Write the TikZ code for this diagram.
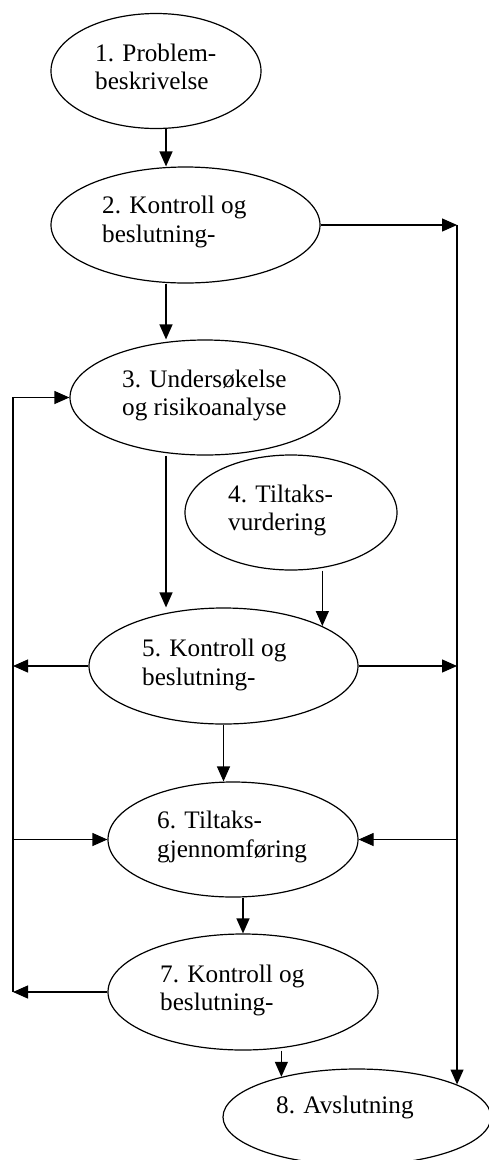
\documentclass[tikz,border=0pt]{standalone}
\usepackage{fontspec}
\setmainfont{Liberation Serif}
\usetikzlibrary{shapes.geometric,arrows.meta}
\begin{document}
\begin{tikzpicture}[x=1pt,y=-1pt,
  proc/.style={draw,ellipse,line width=1.2pt,inner sep=0pt},
  lbl/.style={anchor=base west,inner sep=0pt,font=\fontsize{25.2pt}{29pt}\selectfont},
  arr/.style={line width=1.2pt,-{Triangle[length=15pt,width=13pt]}},
  ln/.style={line width=1.2pt}]
\useasboundingbox (0,0) rectangle (489,1160);
\fill[white] (0,0) rectangle (489,1160);
% ellipses
\node[proc,minimum width=210pt,minimum height=115pt] (e1) at (156,71) {};
\node[proc,minimum width=269pt,minimum height=116pt] (e2) at (185.5,225) {};
\node[proc,minimum width=270pt,minimum height=115pt] (e3) at (205,397.5) {};
\node[proc,minimum width=212pt,minimum height=115pt] (e4) at (291,512.5) {};
\node[proc,minimum width=269pt,minimum height=116pt] (e5) at (223.5,666) {};
\node[proc,minimum width=250pt,minimum height=115pt] (e6) at (233,839.5) {};
\node[proc,minimum width=270pt,minimum height=116pt] (e7) at (243,992) {};
\node[proc,minimum width=268pt,minimum height=96pt] (e8) at (357,1117) {};
% labels
\node[lbl] (t1a) at (95,61) {1. Problem-};
\node[lbl] (t1b) at (95,89) {beskrivelse};
\node[lbl] (t2a) at (102,213) {2. Kontroll og};
\node[lbl] (t2b) at (102,242) {beslutning-};
\node[lbl] (t3a) at (122,387) {3. Undersøkelse};
\node[lbl] (t3b) at (122,415) {og risikoanalyse};
\node[lbl] (t4a) at (228,502) {4. Tiltaks-};
\node[lbl] (t4b) at (228,530) {vurdering};
\node[lbl] (t5a) at (142,656) {5. Kontroll og};
\node[lbl] (t5b) at (142,685) {beslutning-};
\node[lbl] (t6a) at (157,828) {6. Tiltaks-};
\node[lbl] (t6b) at (157,857) {gjennomføring};
\node[lbl] (t7a) at (160,982) {7. Kontroll og};
\node[lbl] (t7b) at (160,1010) {beslutning-};
\node[lbl] (t8) at (276,1113) {8. Avslutning};
% helper coordinates
\coordinate (A) at (166,0);
\coordinate (L) at (13,0);
\coordinate (R) at (e8.18.5);
% main flow
\draw[arr] (e1.south -| A) -- (e2.north -| A);
\draw[arr] (e2.south -| A) -- (e3.north -| A);
\draw[arr] (e3.south -| A) -- (e5.north -| A);
\draw[arr] (e4.south -| e5.22.7) -- (e5.22.7);
\draw[arr] (e5.south) -- (e6.north -| e5.south);
\draw[arr] (e6.south -| e7.north) -- (e7.north);
\draw[arr] (e7.south -| e8.152) -- (e8.152);
% right bus
\draw[arr] (e2.east) -- (e2.east -| R);
\draw[arr] (e2.east -| R) -- (R);
\draw[arr] (e5.east) -- (e5.east -| R);
\draw[arr] (e6.east -| R) -- (e6.east);
% left bus
\draw[arr] (e7.west -| L) -- (e3.west -| L) -- (e3.west);
\draw[arr] (e7.west) -- (e7.west -| L);
\draw[arr] (e5.west) -- (e5.west -| L);
\draw[arr] (e6.west -| L) -- (e6.west);
\end{tikzpicture}
\end{document}
